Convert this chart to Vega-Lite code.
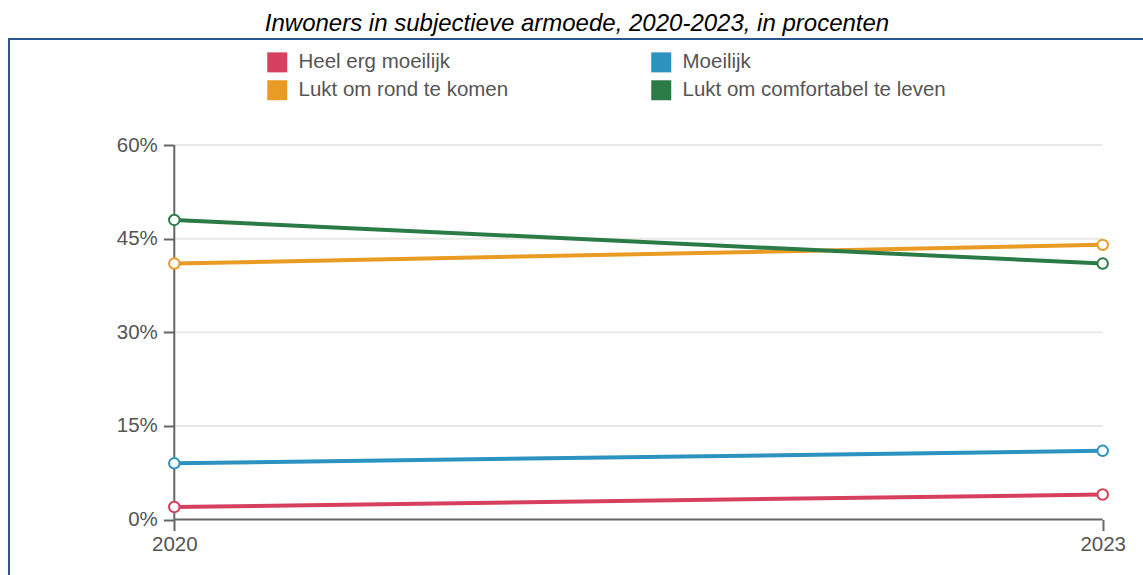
{
  "$schema": "https://vega.github.io/schema/vega-lite/v6.json",
  "autosize": {"type": "none"},
  "padding": {"left": 9, "top": 39, "right": 0, "bottom": 0},
  "width": 1136,
  "height": 600,
  "title": {
    "text": "Inwoners in subjectieve armoede, 2020-2023, in procenten",
    "font": "Liberation Sans",
    "fontSize": 24,
    "fontStyle": "italic",
    "fontWeight": "normal",
    "color": "#000000",
    "anchor": "middle",
    "offset": 3
  },
  "config": {
    "view": {"stroke": "#2a5590", "strokeWidth": 2},
    "font": "Liberation Sans"
  },
  "datasets": {
    "armoede": [
      {"jaar": 2020, "categorie": "Heel erg moeilijk", "waarde": 2},
      {"jaar": 2023, "categorie": "Heel erg moeilijk", "waarde": 4},
      {"jaar": 2020, "categorie": "Moeilijk", "waarde": 9},
      {"jaar": 2023, "categorie": "Moeilijk", "waarde": 11},
      {"jaar": 2020, "categorie": "Lukt om rond te komen", "waarde": 41},
      {"jaar": 2023, "categorie": "Lukt om rond te komen", "waarde": 44},
      {"jaar": 2020, "categorie": "Lukt om comfortabel te leven", "waarde": 48},
      {"jaar": 2023, "categorie": "Lukt om comfortabel te leven", "waarde": 41}
    ],
    "rasterlijnen": [{"tick": 15}, {"tick": 30}, {"tick": 45}, {"tick": 60}]
  },
  "layer": [
    {
      "data": {"name": "rasterlijnen"},
      "mark": {"type": "rule", "color": "#e8e8e8", "strokeWidth": 2},
      "encoding": {
        "y": {"field": "tick", "type": "quantitative"},
        "x": {"datum": 2020, "type": "quantitative"},
        "x2": {"datum": 2023}
      }
    },
    {
      "data": {"values": [{}]},
      "mark": {"type": "rule", "color": "#666666", "strokeWidth": 2},
      "encoding": {
        "x": {"datum": 2020, "type": "quantitative"},
        "y": {"datum": 0, "type": "quantitative"},
        "y2": {"datum": 60}
      }
    },
    {
      "data": {"values": [{}]},
      "mark": {"type": "rule", "color": "#666666", "strokeWidth": 2},
      "encoding": {
        "y": {"datum": 0, "type": "quantitative"},
        "x": {"datum": 2020, "type": "quantitative"},
        "x2": {"datum": 2023}
      }
    },
    {
      "data": {"name": "armoede"},
      "mark": {"type": "line", "strokeWidth": 4},
      "encoding": {
        "x": {
          "field": "jaar",
          "type": "quantitative",
          "scale": {"domain": [2019.4659, 2023.1367], "nice": false, "zero": false},
          "axis": {
            "values": [2020, 2023],
            "format": "d",
            "offset": -119.5,
            "domain": false,
            "grid": false,
            "tickSize": 11,
            "tickWidth": 2,
            "tickColor": "#666666",
            "labelFontSize": 20.5,
            "labelColor": "#555555",
            "labelPadding": 4,
            "title": null
          }
        },
        "y": {
          "field": "waarde",
          "type": "quantitative",
          "scale": {"domain": [-19.145, 76.983], "nice": false, "zero": false},
          "axis": {
            "values": [0, 15, 30, 45, 60],
            "labelExpr": "datum.value + '%'",
            "offset": -165.3,
            "domain": false,
            "grid": false,
            "tickSize": 11,
            "tickWidth": 2,
            "tickColor": "#666666",
            "labelFontSize": 20.5,
            "labelColor": "#555555",
            "labelPadding": 6,
            "title": null
          }
        },
        "color": {
          "field": "categorie",
          "type": "nominal",
          "scale": {
            "domain": ["Heel erg moeilijk", "Moeilijk", "Lukt om rond te komen", "Lukt om comfortabel te leven"],
            "range": ["#d6405e", "#2c92c0", "#e99b23", "#2b7b47"]
          },
          "legend": {
            "title": null,
            "orient": "none",
            "legendX": 258,
            "legendY": 13,
            "direction": "horizontal",
            "columns": 2,
            "columnPadding": 142,
            "rowPadding": 7,
            "symbolType": "square",
            "symbolSize": 400,
            "symbolStrokeWidth": 0,
            "labelFontSize": 20.5,
            "labelColor": "#555555",
            "labelOffset": 11,
            "labelLimit": 400,
            "encode": {
              "symbols": {
                "update": {
                  "fill": {"scale": "color", "field": "value"},
                  "stroke": {"value": "transparent"},
                  "opacity": {"value": 1}
                }
              }
            }
          }
        }
      }
    },
    {
      "data": {"name": "armoede"},
      "mark": {"type": "point", "filled": false, "fill": "white", "fillOpacity": 1, "strokeWidth": 2, "size": 110, "opacity": 1},
      "encoding": {
        "x": {"field": "jaar", "type": "quantitative"},
        "y": {"field": "waarde", "type": "quantitative"},
        "color": {"field": "categorie", "type": "nominal", "legend": null}
      }
    }
  ]
}
